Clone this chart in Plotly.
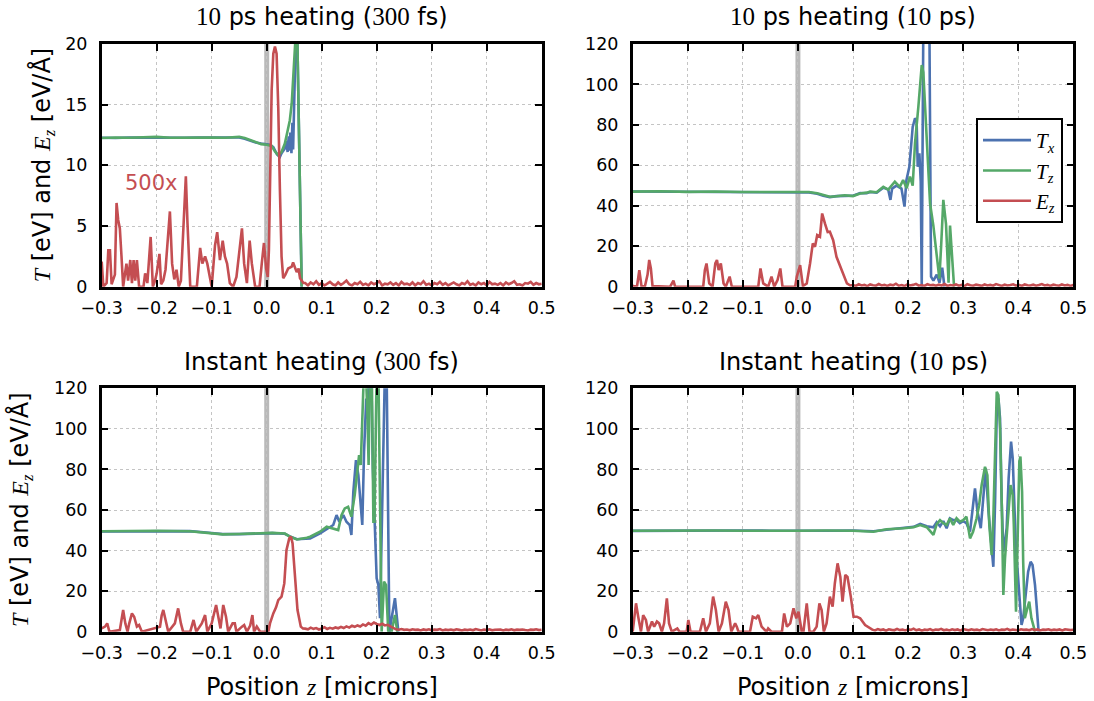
import numpy as np
import plotly.graph_objects as go

# ---------------------------------------------------------------- colours
C_TX = "#4C72B0"
C_TZ = "#55A868"
C_EZ = "#C44E52"

SERIF = "Liberation Serif"
SANS = "DejaVu Sans"

# ---------------------------------------------------------------- panel 1: 10 ps heating (300 fs)
p1_tz_z = [-0.3, -0.275, -0.25, -0.225, -0.2, -0.175, -0.15, -0.125, -0.1, -0.075, -0.05, -0.04,
           -0.03, -0.02, -0.01, 0.0, 0.009, 0.015, 0.021, 0.027, 0.033, 0.039, 0.042, 0.0455,
           0.048, 0.0515, 0.053, 0.0555, 0.0636]
p1_tz = [12.25, 12.3, 12.28, 12.3, 12.35, 12.28, 12.3, 12.27, 12.3, 12.28, 12.35, 12.25,
         12.1, 11.9, 11.75, 11.7, 11.6, 11.15, 10.85, 11.1, 11.8, 13.05, 13.7, 15.1,
         17.6, 19.8, 21.0, 21.0, 0.0]
p1_tx_z = [-0.3, -0.275, -0.25, -0.225, -0.2, -0.175, -0.15, -0.125, -0.1, -0.075, -0.05, -0.04,
           -0.03, -0.02, -0.01, 0.0, 0.006, 0.012, 0.0187, 0.024, 0.027, 0.033, 0.036, 0.038,
           0.040, 0.0415, 0.043, 0.045, 0.0467, 0.048, 0.0505, 0.053, 0.0555, 0.0636]
p1_tx = [12.27, 12.25, 12.3, 12.28, 12.3, 12.3, 12.27, 12.3, 12.28, 12.3, 12.3, 12.2,
         12.05, 11.88, 11.8, 11.75, 11.7, 11.5, 10.9, 10.7, 11.0, 11.4, 12.0, 11.1,
         12.4, 11.2, 12.7, 11.0, 13.5, 11.3, 16.0, 21.0, 21.0, 0.0]
p1_ez_z = [-0.3, -0.297, -0.291, -0.288, -0.285, -0.282, -0.276, -0.273, -0.27, -0.267, -0.264,
           -0.261, -0.255, -0.252, -0.248, -0.245, -0.242, -0.239, -0.236, -0.232, -0.224, -0.221,
           -0.217, -0.214, -0.211, -0.207, -0.203, -0.2, -0.195, -0.192, -0.188, -0.184, -0.181,
           -0.176, -0.172, -0.168, -0.164, -0.16, -0.156, -0.152, -0.147, -0.144, -0.139, -0.127,
           -0.121, -0.117, -0.112, -0.108, -0.104, -0.1, -0.094, -0.09, -0.085, -0.08, -0.076,
           -0.072, -0.067, -0.061, -0.055, -0.052, -0.045, -0.041, -0.036, -0.031, -0.027, -0.021,
           -0.013, -0.009, -0.005, -0.001, 0.002, 0.004, 0.006, 0.009, 0.012, 0.015, 0.018, 0.021,
           0.024, 0.027, 0.030, 0.034, 0.039, 0.0455, 0.048, 0.0545, 0.058, 0.0606, 0.0667]
p1_ez = [2.06, 0.0, 0.3, 3.0, 3.0, 0.2, 1.0, 6.9, 5.5, 4.8, 2.5,
         0.0, 1.9, 0.5, 2.2, 0.3, 2.2, 0.5, 2.2, 0.0, 0.0, 1.1,
         0.3, 2.0, 4.1, 0.0, 0.5, 1.1, 2.7, 0.2, 0.5, 1.4, 3.3,
         6.2, 1.9, 0.6, 1.4, 0.0, 0.5, 4.7, 9.1, 5.2, 0.0, 0.0,
         3.2, 1.9, 2.5, 1.9, 0.8, 0.0, 3.4, 4.5, 2.2, 3.8, 2.5,
         1.9, 0.3, 0.0, 0.8, 1.9, 4.8, 1.9, 0.3, 3.8, 1.9, 0.0,
         0.0, 1.9, 3.6, 1.5, 0.8, 3.0, 9.3, 16.2, 19.2, 19.8, 19.2, 14.8,
         8.0, 2.5, 0.7, 1.0, 1.5, 1.65, 2.0, 1.2, 1.5, 0.7, 0.3]
p1_ez_tail = [0.3, 0.1, 0.35, 0.2, 0.45, 0.15, 0.3, 0.1, 0.25, 0.4, 0.2, 0.1, 0.35, 0.15, 0.3,
              0.5, 0.2, 0.1, 0.3, 0.2, 0.4, 0.15, 0.25, 0.1, 0.35, 0.2, 0.3, 0.45, 0.1, 0.25,
              0.2, 0.35, 0.15, 0.3, 0.1, 0.4, 0.2, 0.25, 0.15, 0.35, 0.1, 0.3, 0.2, 0.45, 0.15,
              0.25, 0.1, 0.3, 0.2, 0.4, 0.15, 0.3, 0.1, 0.25, 0.35, 0.2, 0.1, 0.3, 0.2, 0.45,
              0.15, 0.25, 0.1, 0.35, 0.2, 0.3, 0.1, 0.4, 0.2, 0.25, 0.15, 0.3, 0.1, 0.35, 0.2,
              0.3, 0.45, 0.15, 0.2, 0.1, 0.3, 0.25, 0.4, 0.15, 0.3, 0.2, 0.25]
p1_tail_span = (0.07, 0.5)

# ---------------------------------------------------------------- panel 2: 10 ps heating (10 ps)
p2_tz_z = [-0.3, -0.25, -0.2, -0.15, -0.1, -0.05, 0.0, 0.02, 0.035, 0.046, 0.058, 0.07, 0.085,
           0.1, 0.113, 0.125, 0.131, 0.143, 0.155, 0.164, 0.176, 0.185, 0.191, 0.1975, 0.2035,
           0.2084, 0.2126, 0.2187, 0.2248, 0.2277, 0.2326, 0.2368, 0.2399, 0.2459, 0.252, 0.2568,
           0.260, 0.264, 0.2689, 0.2713, 0.2735, 0.2762, 0.281, 0.2835]
p2_tz = [47.0, 47.2, 46.9, 47.1, 46.8, 46.9, 46.7, 46.8, 46.2, 45.3, 44.5, 44.7, 45.2,
         44.8, 46.1, 46.5, 47.0, 46.7, 49.4, 48.0, 51.9, 49.4, 52.7, 48.7, 54.4,
         50.0, 70.9, 89.0, 109.6, 106.0, 80.8, 57.7, 41.2, 30.2, 16.5, 4.0,
         20.0, 42.9, 31.0, 10.0, 2.0, 30.2, 12.0, 0.0]
p2_tx_z = [-0.3, -0.25, -0.2, -0.15, -0.1, -0.05, 0.0, 0.02, 0.035, 0.046, 0.058, 0.07, 0.085,
           0.1, 0.113, 0.125, 0.131, 0.143, 0.155, 0.164, 0.168, 0.171, 0.179, 0.188, 0.1935,
           0.197, 0.2023, 0.2055, 0.2084, 0.2126, 0.2155, 0.2175, 0.2205, 0.223, 0.2248, 0.2277,
           0.2387, 0.2417, 0.246, 0.252, 0.257, 0.262, 0.266]
p2_tx = [47.1, 47.0, 47.0, 46.9, 46.9, 46.8, 46.8, 46.6, 46.0, 45.0, 44.3, 44.8, 44.9,
         45.0, 46.3, 46.2, 46.8, 46.5, 49.0, 48.0, 42.9, 48.5, 50.0, 48.5, 39.6,
         52.7, 59.3, 68.0, 79.0, 83.3, 82.0, 59.3, 66.0, 52.0, 0.0, 130.0,
         130.0, 5.0, 3.0, 6.0, 2.0, 9.4, 0.0]
p2_ez_z = [-0.3, -0.296, -0.292, -0.288, -0.284, -0.278, -0.273, -0.27, -0.267, -0.264, -0.232,
           -0.226, -0.223, -0.172, -0.169, -0.166, -0.161, -0.155, -0.15, -0.147, -0.144, -0.14,
           -0.135, -0.131, -0.124, -0.12, -0.072, -0.068, -0.063, -0.054, -0.048, -0.043, -0.037,
           -0.032, -0.028, -0.005, -0.002, 0.004, 0.009, 0.016, 0.022, 0.027, 0.031, 0.035,
           0.040, 0.044, 0.049, 0.054, 0.058, 0.064, 0.070, 0.077, 0.083, 0.089, 0.095]
p2_ez = [0.5, 0.0, 0.5, 8.2, 0.3, 0.0, 6.0, 13.2, 9.0, 0.3, 0.0,
         3.0, 0.0, 0.0, 8.2, 11.5, 1.6, 0.0, 11.5, 13.2, 8.2, 11.5,
         1.6, 0.0, 5.0, 0.0, 0.0, 9.0, 1.6, 0.0, 5.0, 0.0, 3.3,
         9.0, 0.0, 0.0, 5.0, 10.7, 0.3, 1.6, 11.5, 21.4, 19.8, 25.5,
         24.7, 36.2, 31.3, 27.0, 27.2, 23.0, 14.8, 9.9, 5.0, 1.6, 0.6]
p2_ez_tail = [0.8, 0.4, 1.2, 0.6, 0.9, 0.3, 1.1, 0.7, 0.5, 1.3, 0.6, 0.9, 0.4, 1.0, 0.7,
              1.5, 0.5, 0.8, 0.3, 1.1, 0.6, 0.9, 1.4, 0.5, 0.8, 0.4, 1.2, 0.7, 0.9, 0.5,
              1.0, 0.6, 1.3, 0.4, 0.8, 0.6, 1.1, 0.5, 0.9, 0.3, 1.2, 0.7, 0.5, 1.0, 0.8,
              0.4, 1.1, 0.6, 0.9, 0.5, 1.3, 0.7, 0.4, 1.0, 0.6, 0.8, 1.2, 0.5, 0.9, 0.4,
              1.1, 0.7, 0.6, 1.0, 0.5, 0.8, 1.3, 0.6, 0.9, 0.4, 1.0, 0.7, 0.5, 1.1, 0.6,
              0.9, 0.4, 0.8]
p2_tail_span = (0.1, 0.5)

# ---------------------------------------------------------------- panel 3: Instant heating (300 fs)
p3_tz_z = [-0.3, -0.26, -0.2, -0.14, -0.11, -0.08, -0.05, -0.02, 0.01, 0.033, 0.042, 0.055,
           0.065, 0.073, 0.079, 0.088, 0.097, 0.109, 0.121, 0.130, 0.136, 0.142, 0.148, 0.154,
           0.160, 0.1653, 0.168, 0.171, 0.1745, 0.177, 0.180, 0.183, 0.1853, 0.1878, 0.191,
           0.194, 0.196, 0.198, 0.1999, 0.203, 0.206, 0.209, 0.2133, 0.217, 0.221, 0.227,
           0.2332, 0.2375]
p3_tz = [49.5, 49.6, 49.8, 49.5, 48.8, 48.0, 48.2, 48.5, 48.7, 48.4, 46.9, 45.5,
         45.8, 46.3, 46.8, 48.0, 49.3, 51.8, 51.0, 50.1, 57.5, 60.8, 61.6, 56.7,
         67.4, 80.5, 87.1, 82.2, 105.2, 130.0, 130.0, 108.5, 82.2, 130.0, 130.0,
         54.2, 54.2, 105.0, 130.0, 130.0, 55.9, 0.0, 24.7, 23.0, 0.0, 0.0,
         8.2, 0.0]
p3_tx_z = [-0.3, -0.26, -0.2, -0.14, -0.11, -0.08, -0.05, -0.02, 0.01, 0.033, 0.042, 0.055,
           0.065, 0.073, 0.079, 0.097, 0.112, 0.121, 0.127, 0.132, 0.1393, 0.145, 0.151, 0.154,
           0.1575, 0.1623, 0.1666, 0.171, 0.1738, 0.177, 0.181, 0.183, 0.1865, 0.190, 0.193,
           0.1999, 0.203, 0.206, 0.215, 0.218, 0.223, 0.2332, 0.2393]
p3_tx = [49.4, 49.5, 49.7, 49.6, 48.9, 48.1, 48.1, 48.4, 48.6, 48.3, 47.0, 45.6,
         45.7, 46.0, 46.0, 48.5, 51.0, 52.6, 57.5, 54.2, 57.5, 54.2, 52.6, 47.7,
         69.0, 84.6, 77.3, 62.4, 52.6, 88.7, 115.0, 105.0, 130.0, 130.0, 80.5,
         26.3, 23.0, 6.6, 130.0, 130.0, 0.0, 16.5, 0.0]
p3_ez_z = [-0.3, -0.294, -0.29, -0.286, -0.267, -0.261, -0.257, -0.253, -0.25, -0.245, -0.241,
           -0.236, -0.232, -0.227, -0.194, -0.191, -0.188, -0.183, -0.179, -0.167, -0.161, -0.156,
           -0.152, -0.139, -0.133, -0.128, -0.118, -0.112, -0.108, -0.1, -0.096, -0.092, -0.088,
           -0.084, -0.079, -0.074, -0.07, -0.062, -0.058, -0.055, -0.045, -0.041, -0.036, -0.03,
           -0.026, -0.023, -0.018, -0.012, 0.003, 0.006, 0.012, 0.017, 0.021, 0.027, 0.032,
           0.036, 0.041, 0.044, 0.047, 0.052, 0.056, 0.062, 0.066]
p3_ez = [1.6, 2.5, 4.1, 0.0, 0.8, 10.7, 4.0, 0.0, 4.0, 9.0, 7.4,
         2.5, 3.3, 0.0, 2.5, 8.0, 10.7, 4.1, 0.0, 4.1, 11.5, 4.1,
         0.0, 0.0, 5.8, 0.0, 4.1, 8.2, 0.0, 4.1, 9.0, 13.2, 7.4,
         1.6, 13.2, 7.4, 0.0, 4.1, 4.1, 0.0, 2.5, 3.3, 0.0, 3.0,
         8.2, 0.0, 2.5, 0.0, 0.0, 4.1, 9.0, 12.0, 15.6, 17.3, 23.8,
         40.3, 46.0, 46.9, 43.6, 27.0, 10.7, 2.5, 1.6]
p3_ez_tail = [1.5, 1.2, 2.0, 1.4, 1.8, 1.1, 1.6, 2.2, 1.3, 1.9, 1.5, 2.1, 1.7, 2.4, 1.8,
              2.6, 2.0, 2.9, 2.4, 3.1, 2.6, 3.6, 3.0, 4.2, 3.5, 4.5, 3.8, 3.3, 3.9, 3.1,
              3.4, 2.6, 1.8, 1.2, 1.0, 1.3, 0.9, 1.1, 0.7, 1.2, 0.9, 1.0, 0.6, 1.1, 0.8,
              1.2, 0.7, 1.0, 0.9, 1.3, 0.6, 1.0, 0.8, 1.1, 0.7, 1.2, 0.9, 0.6, 1.0, 0.8,
              1.1, 0.7, 1.3, 0.9, 0.6, 1.0, 0.8, 1.2, 0.7, 1.0, 0.9, 1.1, 0.6, 1.0, 0.8,
              1.2, 0.7, 1.0, 0.9, 1.1, 0.8, 0.6, 1.0, 0.9, 1.2, 0.8, 1.0]
p3_tail_span = (0.07, 0.5)

# ---------------------------------------------------------------- panel 4: Instant heating (10 ps)
p4_tz_z = [-0.3, -0.25, -0.2, -0.15, -0.1, -0.05, 0.0, 0.05, 0.1, 0.137, 0.161, 0.192, 0.21,
           0.222, 0.234, 0.246, 0.252, 0.258, 0.264, 0.270, 0.276, 0.282, 0.288, 0.294, 0.300,
           0.306, 0.3125, 0.318, 0.3245, 0.329, 0.3336, 0.3397, 0.344, 0.3475, 0.3518, 0.3548,
           0.358, 0.361, 0.364, 0.367, 0.370, 0.373, 0.376, 0.379, 0.382, 0.386, 0.390, 0.392,
           0.396, 0.399, 0.402, 0.404, 0.407, 0.409, 0.412, 0.4165, 0.420, 0.424, 0.4305]
p4_tz = [49.8, 49.9, 49.7, 49.9, 49.8, 49.7, 49.8, 49.9, 49.8, 49.3, 50.5, 51.0, 51.5,
         52.6, 51.5, 47.7, 53.0, 55.0, 53.5, 52.6, 55.9, 52.6, 55.9, 54.2, 55.0,
         56.7, 46.0, 49.3, 55.9, 62.4, 72.3, 81.3, 77.2, 52.6, 37.8, 55.9,
         88.7, 118.3, 116.6, 100.2, 64.1, 18.1, 36.2, 47.7, 60.8, 72.3, 67.4, 52.6,
         9.9, 47.7, 83.8, 86.3, 69.0, 34.5, 6.6, 11.5, 14.8, 6.6, 0.0]
p4_tx_z = [-0.3, -0.25, -0.2, -0.15, -0.1, -0.05, 0.0, 0.05, 0.1, 0.137, 0.161, 0.192, 0.21,
           0.222, 0.234, 0.246, 0.252, 0.258, 0.264, 0.270, 0.276, 0.282, 0.288, 0.294, 0.300,
           0.306, 0.3125, 0.318, 0.3215, 0.326, 0.332, 0.337, 0.341, 0.346, 0.350, 0.3548,
           0.358, 0.361, 0.364, 0.367, 0.370, 0.373, 0.376, 0.379, 0.3826, 0.387, 0.390, 0.392,
           0.396, 0.399, 0.403, 0.406, 0.409, 0.412, 0.415, 0.418, 0.4225, 0.426, 0.4305,
           0.435, 0.437]
p4_tx = [49.7, 49.8, 49.8, 49.7, 49.9, 49.8, 49.7, 49.8, 49.9, 49.5, 50.3, 51.2, 51.7,
         53.2, 52.0, 51.5, 54.0, 52.0, 54.5, 51.0, 55.9, 55.0, 55.0, 53.5, 54.5,
         53.5, 49.3, 62.4, 70.7, 59.2, 51.0, 67.4, 80.5, 59.2, 46.0, 32.0,
         64.1, 108.5, 115.0, 105.2, 64.0, 39.5, 44.4, 51.0, 75.6, 93.7, 85.5, 65.7,
         39.5, 29.6, 16.5, 3.3, 6.6, 14.8, 23.0, 29.6, 34.5, 32.9, 23.0,
         6.6, 0.0]
p4_ez_z = [-0.3, -0.294, -0.29, -0.285, -0.281, -0.276, -0.272, -0.265, -0.261, -0.256, -0.252,
           -0.247, -0.243, -0.238, -0.234, -0.229, -0.219, -0.215, -0.202, -0.199, -0.195, -0.178,
           -0.172, -0.167, -0.16, -0.154, -0.149, -0.144, -0.138, -0.131, -0.126, -0.121, -0.114,
           -0.111, -0.108, -0.087, -0.082, -0.076, -0.072, -0.066, -0.057, -0.054, -0.048, -0.029,
           -0.025, -0.02, -0.014, -0.008, -0.003, 0.001, 0.007, 0.01, 0.016, 0.021, 0.028,
           0.034, 0.039, 0.043, 0.047, 0.052, 0.058, 0.063, 0.067, 0.072, 0.077, 0.081,
           0.086, 0.09, 0.096, 0.101, 0.107, 0.113, 0.122, 0.131]
p4_ez = [0.0, 14.0, 7.4, 0.0, 8.2, 5.8, 0.0, 5.0, 2.5, 5.0, 4.1,
         0.0, 4.1, 16.4, 4.1, 0.0, 1.6, 0.0, 0.0, 5.8, 0.0, 0.0,
         6.6, 0.0, 4.1, 17.3, 10.7, 0.0, 4.1, 14.8, 10.7, 0.0, 4.1,
         2.5, 0.0, 0.0, 7.4, 6.6, 8.2, 2.5, 0.0, 1.6, 0.0, 0.0,
         9.0, 2.5, 4.1, 11.5, 6.6, 9.9, 0.0, 0.0, 14.0, 0.0, 0.0,
         2.5, 14.0, 10.7, 0.0, 4.1, 17.3, 12.3, 23.8, 33.7, 27.0, 14.8,
         28.0, 27.0, 17.3, 7.4, 7.4, 6.6, 3.3, 1.6]
p4_ez_tail = [1.0, 0.6, 1.3, 0.8, 1.1, 0.5, 1.2, 0.9, 0.7, 1.4, 0.8, 1.0, 0.6, 1.2, 0.9,
              1.5, 0.7, 1.1, 0.5, 1.0, 0.8, 1.3, 0.6, 1.1, 0.9, 1.4, 0.7, 1.0, 0.6, 1.2,
              0.8, 1.1, 0.5, 1.3, 0.9, 0.7, 1.2, 0.8, 1.0, 0.6, 1.3, 0.9, 0.7, 1.1, 0.8,
              1.2, 0.6, 1.0, 0.9, 1.4, 0.7, 1.1, 0.8, 0.6, 1.2, 0.9, 1.0, 0.7, 1.3, 0.8,
              1.1, 0.6, 1.0, 0.9, 1.2, 0.7, 1.0, 0.8, 1.1, 0.6, 1.2, 0.9, 0.8, 1.0]
p4_tail_span = (0.135, 0.5)

panels = [
    dict(tx=(p1_tx_z, p1_tx), tz=(p1_tz_z, p1_tz), ez=(p1_ez_z, p1_ez), tail=(p1_tail_span, p1_ez_tail)),
    dict(tx=(p2_tx_z, p2_tx), tz=(p2_tz_z, p2_tz), ez=(p2_ez_z, p2_ez), tail=(p2_tail_span, p2_ez_tail)),
    dict(tx=(p3_tx_z, p3_tx), tz=(p3_tz_z, p3_tz), ez=(p3_ez_z, p3_ez), tail=(p3_tail_span, p3_ez_tail)),
    dict(tx=(p4_tx_z, p4_tx), tz=(p4_tz_z, p4_tz), ez=(p4_ez_z, p4_ez), tail=(p4_tail_span, p4_ez_tail)),
]

# ---------------------------------------------------------------- layout geometry
W, H = 1094, 701
x_dom = [(101.7 / W, 541.7 / W), (632.7 / W, 1073.3 / W)]
y_dom = [(1 - 286.7 / H, 1 - 44.0 / H), (1 - 631.7 / H, 1 - 388.3 / H)]
y_ranges = [[0, 20], [0, 120], [0, 120], [0, 120]]
y_dticks = [5, 20, 20, 20]
LW = 2.6


def serif(txt, italic=False, size=None):
    style = f"font-family:{SERIF}"
    if italic:
        style += ";font-style:italic"
    if size:
        style += f";font-size:{size}px"
    return f"<span style='{style}'>{txt}</span>"


titles = [
    f"{serif('10', size=25)} ps heating ({serif('300', size=25)} fs)",
    f"{serif('10', size=25)} ps heating ({serif('10', size=25)} ps)",
    f"Instant heating ({serif('300', size=25)} fs)",
    f"Instant heating ({serif('10', size=25)} ps)",
]
y_label = (f"{serif('T', True)} [eV] and {serif('E', True)}"
           f"<sub>{serif('z', True)}</sub> [eV/Å]")
x_label = f"Position {serif('z', True)} [microns]"

fig = go.Figure()

for i, p in enumerate(panels):
    ax = "" if i == 0 else str(i + 1)
    xref, yref = "x" + ax, "y" + ax
    tail_span, tail_vals = p["tail"]
    tail_z = np.linspace(tail_span[0], tail_span[1], len(tail_vals))
    ez_z = list(p["ez"][0]) + list(tail_z)
    ez_v = list(p["ez"][1]) + list(tail_vals)
    show = i == 1
    fig.add_trace(go.Scatter(x=p["tx"][0], y=p["tx"][1], mode="lines", xaxis=xref, yaxis=yref,
                             line=dict(color=C_TX, width=LW),
                             name=serif("T", True) + "<sub>" + serif("x", True) + "</sub>",
                             showlegend=show))
    fig.add_trace(go.Scatter(x=p["tz"][0], y=p["tz"][1], mode="lines", xaxis=xref, yaxis=yref,
                             line=dict(color=C_TZ, width=LW),
                             name=serif("T", True) + "<sub>" + serif("z", True) + "</sub>",
                             showlegend=show))
    fig.add_trace(go.Scatter(x=ez_z, y=ez_v, mode="lines", xaxis=xref, yaxis=yref,
                             line=dict(color=C_EZ, width=LW),
                             name=serif("E", True) + "<sub>" + serif("z", True) + "</sub>",
                             showlegend=show))

    r, c = divmod(i, 2)
    axis_common = dict(showline=True, linecolor="black", linewidth=2.5, mirror="allticks",
                       ticks="inside", ticklen=7, tickwidth=2, tickcolor="black",
                       showgrid=True, gridcolor="#c4c4c4", griddash="dot", gridwidth=1,
                       zeroline=False, automargin=False,
                       tickfont=dict(family=SANS, size=17.5, color="black"))
    fig.layout["xaxis" + ax] = dict(domain=x_dom[c], anchor=yref, range=[-0.3, 0.5], dtick=0.1,
                                    tick0=0, tickformat=".1f", ticklabelstandoff=4, **axis_common)
    fig.layout["yaxis" + ax] = dict(domain=y_dom[r], anchor=xref, range=y_ranges[i],
                                    dtick=y_dticks[i], tick0=0, ticklabelstandoff=8, **axis_common)

    # interface marker at z = 0
    fig.add_shape(type="rect", xref=xref, yref=yref + " domain", x0=-0.0045, x1=0.0045, y0=0, y1=1,
                  fillcolor="rgba(128,128,128,0.55)", line_width=0, layer="below")

    xc = (x_dom[c][0] + x_dom[c][1]) / 2
    fig.add_annotation(text=titles[i], xref="paper", yref="paper", x=xc,
                       y=(1 - 17 / H) if r == 0 else (1 - 362 / H), showarrow=False,
                       font=dict(family=SANS, size=24, color="black"), xanchor="center", yanchor="middle")
    if r == 1:
        fig.add_annotation(text=x_label, xref="paper", yref="paper", x=xc, y=1 - 687 / H,
                           showarrow=False, font=dict(family=SANS, size=24, color="black"),
                           xanchor="center", yanchor="middle")
    if c == 0:
        fig.add_annotation(text=y_label, xref="paper", yref="paper",
                           x=(43 if r == 0 else 21) / W,
                           y=(y_dom[r][0] + y_dom[r][1]) / 2, textangle=-90, showarrow=False,
                           font=dict(family=SANS, size=24, color="black"),
                           xanchor="center", yanchor="middle")

fig.add_annotation(text="500x", xref="x", yref="y", x=-0.261, y=8.55, showarrow=False,
                   xanchor="left", yanchor="middle", font=dict(family=SANS, size=21, color=C_EZ))

fig.update_layout(
    width=W, height=H, margin=dict(l=0, r=0, t=0, b=0, autoexpand=False),
    paper_bgcolor="white", plot_bgcolor="white",
    legend=dict(x=1063 / W, y=1 - 118 / H, xanchor="right", yanchor="top",
                bgcolor="white", bordercolor="black", borderwidth=2, itemwidth=48,
                font=dict(family=SERIF, size=21, color="black"), tracegroupgap=0),
)

fig.write_html("out.html")
